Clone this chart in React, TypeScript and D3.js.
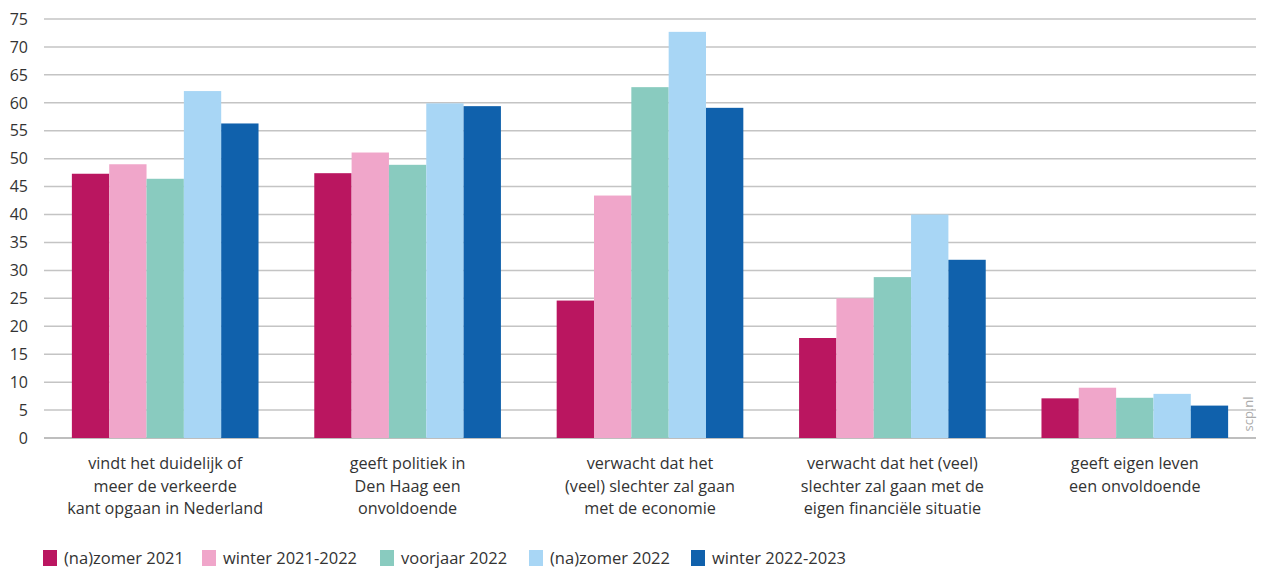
import React from "react";
import * as d3 from "d3";

const categories = [
  "cat1",
  "cat2",
  "cat3",
  "cat4",
  "cat5",
];
const categoryLabels: string[][] = [
  ["vindt het duidelijk of", "meer de verkeerde", "kant opgaan in Nederland"],
  ["geeft politiek in", "Den Haag een", "onvoldoende"],
  ["verwacht dat het", "(veel) slechter zal gaan", "met de economie"],
  ["verwacht dat het (veel)", "slechter zal gaan met de", "eigen financiële situatie"],
  ["geeft eigen leven", "een onvoldoende"],
];
const seriesNames = [
  "(na)zomer 2021",
  "winter 2021-2022",
  "voorjaar 2022",
  "(na)zomer 2022",
  "winter 2022-2023",
];
const seriesColors = ["#BA1660", "#F0A6CA", "#89CBBF", "#A8D6F5", "#1061AC"];
const nazomer2021 = [47.3, 47.4, 24.6, 17.9, 7.1];
const winter2122 = [49.0, 51.1, 43.4, 25.0, 9.0];
const voorjaar2022 = [46.4, 48.9, 62.8, 28.8, 7.2];
const nazomer2022 = [62.1, 59.9, 72.7, 40.0, 7.9];
const winter2223 = [56.3, 59.4, 59.1, 31.9, 5.8];
const seriesValues = [nazomer2021, winter2122, voorjaar2022, nazomer2022, winter2223];
const yTicks = d3.range(0, 80, 5);

const FONT = "'Open Sans', 'Noto Sans', sans-serif";
const TEXT = "#333333";

export default function App() {
  const W = 1263;
  const H = 575;
  const left = 44;
  const right = 1256;
  const top = 19;
  const bottom = 438;

  const y = d3.scaleLinear().domain([0, 75]).range([bottom, top]);
  const x0 = d3
    .scaleBand<string>()
    .domain(categories)
    .range([left, right])
    .paddingInner(0.23)
    .paddingOuter(0.115);
  const x1 = d3
    .scaleBand<string>()
    .domain(seriesNames)
    .range([0, x0.bandwidth()])
    .padding(0);

  const legendX = [43, 202, 380, 529, 691];

  return (
    <svg
      width={W}
      height={H}
      style={{ position: "absolute", left: 0, top: 0, background: "#fff" }}
      fontFamily={FONT}
    >
      {yTicks.map((t) => (
        <g key={t}>
          <line
            x1={left}
            x2={right}
            y1={y(t)}
            y2={y(t)}
            stroke={t === 0 ? "#a8a8a8" : "#c4c4c4"}
            strokeWidth={1.5}
          />
          <text
            x={28}
            y={y(t)}
            dy="0.36em"
            textAnchor="end"
            fontSize={16}
            fill={TEXT}
          >
            {t}
          </text>
        </g>
      ))}
      {categories.map((c, ci) => (
        <g key={c} transform={`translate(${x0(c)},0)`}>
          {seriesNames.map((s, si) => {
            const v = seriesValues[si][ci];
            return (
              <rect
                key={s}
                x={x1(s)}
                y={y(v)}
                width={x1.bandwidth()}
                height={y(0) - y(v)}
                fill={seriesColors[si]}
              />
            );
          })}
        </g>
      ))}
      {categories.map((c, ci) => (
        <text
          key={c}
          x={(x0(c) as number) + x0.bandwidth() / 2}
          y={469}
          textAnchor="middle"
          fontSize={16.2}
          fill={TEXT}
        >
          {categoryLabels[ci].map((l, li) => (
            <tspan key={li} x={(x0(c) as number) + x0.bandwidth() / 2} dy={li === 0 ? 0 : 22.5}>
              {l}
            </tspan>
          ))}
        </text>
      ))}
      {seriesNames.map((s, si) => (
        <g key={s} transform={`translate(${legendX[si]},550)`}>
          <rect x={0} y={0} width={14} height={16} fill={seriesColors[si]} />
          <text x={21} y={8} dy="0.36em" fontSize={16.5} fill={TEXT}>
            {s}
          </text>
        </g>
      ))}
      <text
        transform="translate(1253,414) rotate(-90)"
        textAnchor="middle"
        fontSize={13}
        fill="#ababab"
      >
        scp.nl
      </text>
    </svg>
  );
}
